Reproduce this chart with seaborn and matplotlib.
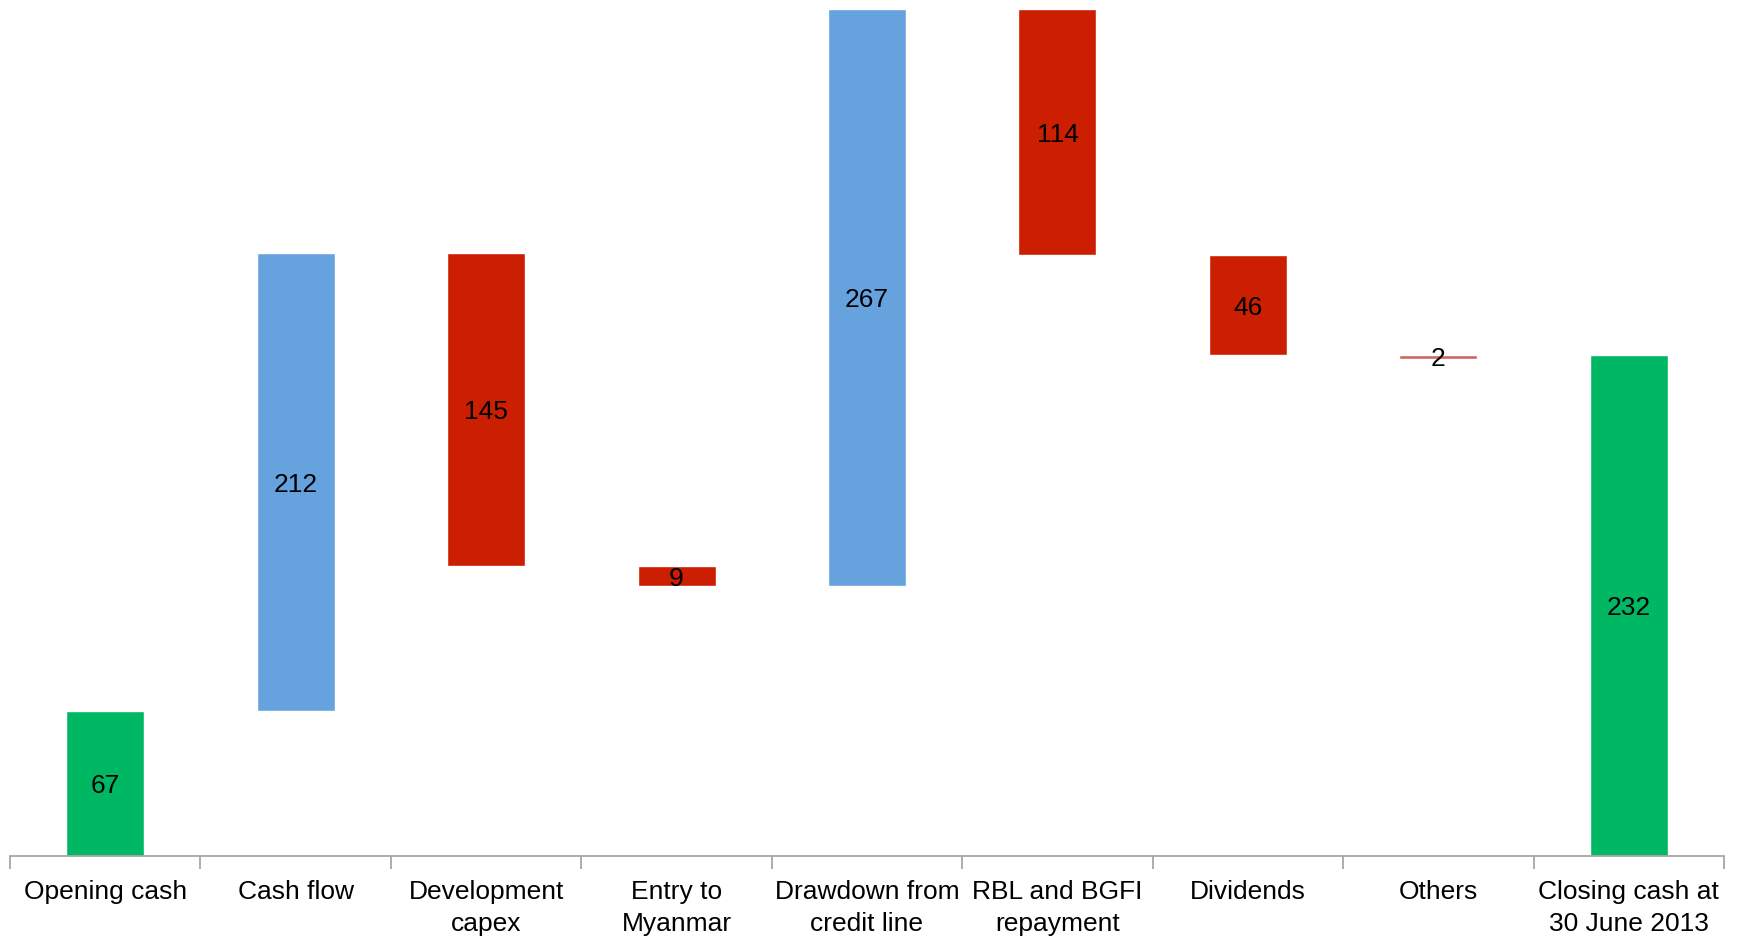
import matplotlib
matplotlib.use("Agg")
import matplotlib.pyplot as plt
import seaborn as sns
import pandas as pd
import numpy as np

# Cash movement steps (US$ million)
labels = ["Opening cash", "Cash flow", "Development\ncapex", "Entry to\nMyanmar",
          "Drawdown from\ncredit line", "RBL and BGFI\nrepayment", "Dividends",
          "Others", "Closing cash at\n30 June 2013"]
values = [67, 212, -145, -9, 267, -114, -46, -2, 232]
kinds = ["total", "inflow", "outflow", "outflow", "inflow", "outflow", "outflow",
         "minor", "total"]

# Floating bar bases: totals start at zero, steps start from the running balance
bottoms = []
heights = []
running = 0
for v, k in zip(values, kinds):
    if k == "total":
        bottoms.append(0)
        heights.append(v)
        running = v
    elif k == "minor":
        # small adjustment shown sitting just under the balance line
        bottoms.append(running + v)
        heights.append(-v)
    else:
        if v >= 0:
            bottoms.append(running)
            heights.append(v)
        else:
            bottoms.append(running + v)
            heights.append(-v)
        running += v

df = pd.DataFrame({"label": labels, "value": values, "kind": kinds,
                   "bottom": bottoms, "height": heights})

palette = {"total": "#00b864", "inflow": "#66a3de", "outflow": "#cc1e00",
           "minor": "#cd675d"}

sns.set_style("white")
plt.rcParams["font.family"] = ["Liberation Sans", "DejaVu Sans"]

fig = plt.figure(figsize=(17.42, 9.42), dpi=100)
ax = fig.add_axes([10 / 1742, 86 / 942, 1714 / 1742, 847 / 942])

for kind, sub in df.groupby("kind", sort=False):
    sns.barplot(data=sub, x="label", y="height", order=labels,
                bottom=sub["bottom"].to_numpy(), color=palette[kind],
                saturation=1, width=0.41, ax=ax, errorbar=None)

for i, row in df.iterrows():
    ax.text(i, row["bottom"] + row["height"] / 2, f"{abs(row['value'])}",
            ha="center", va="center_baseline", fontsize=19, color="black")

ax.set_xlim(-0.5, len(labels) - 0.5)
ax.set_ylim(0, 392)
ax.set_xlabel("")
ax.set_ylabel("")
ax.set_yticks([])

sns.despine(ax=ax, left=True, top=True, right=True)
ax.spines["bottom"].set_color("#a6a6a6")
ax.spines["bottom"].set_linewidth(1.3)

ax.tick_params(axis="x", which="major", length=0, pad=17, labelsize=19,
               labelcolor="black")
ax.set_xticks(np.arange(-0.5, len(labels), 1.0), minor=True)
ax.tick_params(axis="x", which="minor", bottom=True, length=9, width=1.3,
               color="#a6a6a6", direction="out")
for t in ax.get_xticklabels():
    t.set_verticalalignment("top")
    t.set_linespacing(1.45)

fig.savefig("out.png", dpi=100, facecolor="white")
